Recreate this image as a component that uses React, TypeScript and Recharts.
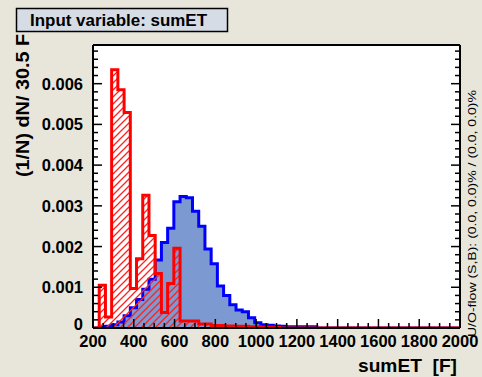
import React from "react";
import { ComposedChart, Area, XAxis, YAxis, CartesianGrid } from "recharts";

const X_MIN = 200;
const X_MAX = 2000;
const BIN_WIDTH = 30.5;
const Y_MAX = 0.00695;

// signal (blue, filled) per 30.5-wide bin starting at 200
const signal = [
  0, 0.00002, 0.00004, 0.00008, 0.00015, 0.0003, 0.0005, 0.0007, 0.00095, 0.0012,
  0.00167, 0.0021, 0.00245, 0.0031, 0.00323, 0.0032, 0.00287, 0.0025, 0.00194, 0.00158,
  0.00103, 0.0008, 0.00057, 0.00044, 0.0004, 0.00025, 0.00013, 0.00008, 0.00007, 0.00005,
  0.00004, 0.00003, 0.00003, 0.00003, 0.00003, 0.00003, 0, 0, 0, 0,
  0, 0, 0, 0, 0, 0, 0, 0, 0, 0,
  0, 0, 0, 0, 0, 0, 0, 0, 0,
];

// background (red, hatched)
const background = [
  0, 0.00105, 0.00027, 0.00634, 0.00585, 0.00529, 0.00097, 0.0017, 0.00326, 0.00227,
  0.00134, 0.00038, 0.00109, 0.00196, 0.00017, 0.00017, 0.00017, 0.0001, 0.0001, 0.00006,
  0.00006, 0.00005, 0.00005, 0.00004, 0.00004, 0.00003, 0.00003, 0.00002, 0.00002, 0.00001,
  0, 0, 0, 0, 0, 0, 0, 0, 0, 0,
  0, 0, 0, 0, 0, 0, 0, 0, 0, 0,
  0, 0, 0, 0, 0, 0, 0, 0, 0,
];

const xMajorTicks = [200, 400, 600, 800, 1000, 1200, 1400, 1600, 1800, 2000];
const yMajorTicks = [0, 0.001, 0.002, 0.003, 0.004, 0.005, 0.006];
const yTickLabels = ["0", "0.001", "0.002", "0.003", "0.004", "0.005", "0.006"];

const xTicks: number[] = [];
for (let v = X_MIN; v <= X_MAX; v += 50) xTicks.push(v);
const yTicks: number[] = [];
for (let k = 0; k <= 34; k++) yTicks.push(k * 0.0002);

// step-after rows: one per bin lower edge plus the closing edge
const data = signal.map((s, i) => ({ x: X_MIN + i * BIN_WIDTH, sig: s, bkg: background[i] }));
data.push({
  x: X_MIN + signal.length * BIN_WIDTH,
  sig: signal[signal.length - 1],
  bkg: background[background.length - 1],
});

const font = '"Liberation Sans", Arial, Helvetica, sans-serif';
const isMajorX = (v: number) => xMajorTicks.includes(v);
const majorYIndex = (v: number) =>
  yMajorTicks.findIndex((m) => Math.abs(m - v) < 1e-9);

function BottomTick({ x, y, payload }: any) {
  const major = isMajorX(payload.value);
  return (
    <g>
      <line x1={x} x2={x} y1={y} y2={y - (major ? 9 : 5)} stroke="#000" strokeWidth={1.5} />
      {major && (
        <text x={x} y={y + 19} textAnchor="middle" fontFamily={font} fontWeight={700} fontSize={16.5} fill="#000">
          {payload.value}
        </text>
      )}
    </g>
  );
}

function TopTick({ x, y, payload }: any) {
  const major = isMajorX(payload.value);
  return <line x1={x} x2={x} y1={y} y2={y + (major ? 9 : 5)} stroke="#000" strokeWidth={1.5} />;
}

function LeftTick({ x, y, payload }: any) {
  const idx = majorYIndex(payload.value);
  return (
    <g>
      <line x1={x} x2={x + (idx >= 0 ? 9 : 5)} y1={y} y2={y} stroke="#000" strokeWidth={1.5} />
      {idx >= 0 && (
        <text
          x={x - 10}
          y={idx === 0 ? y - 4 : y}
          dy="0.36em"
          textAnchor="end"
          fontFamily={font}
          fontWeight={700}
          fontSize={16.5}
          fill="#000"
        >
          {yTickLabels[idx]}
        </text>
      )}
    </g>
  );
}

function RightTick({ x, y, payload }: any) {
  const major = majorYIndex(payload.value) >= 0;
  return <line x1={x} x2={x - (major ? 9 : 5)} y1={y} y2={y} stroke="#000" strokeWidth={1.5} />;
}

export default function App() {
  return (
    <div style={{ position: "absolute", left: 0, top: 0, width: 482, height: 377, background: "#e8e6da" }}>
      <ComposedChart width={482} height={377} data={data} margin={{ top: 44, right: 21, bottom: 48, left: 92 }}>
        <defs>
          <pattern id="bkgHatch" patternUnits="userSpaceOnUse" width={7} height={7}>
            <path d="M-1,8 L8,-1 M-1,1 L1,-1 M6,8 L8,6" stroke="#ff2020" strokeWidth={1.3} />
          </pattern>
        </defs>
        <CartesianGrid xAxisId="b" yAxisId="l" horizontal={false} vertical={false} fill="#ffffff" stroke="none" />
        <XAxis
          xAxisId="b"
          dataKey="x"
          type="number"
          orientation="bottom"
          domain={[X_MIN, X_MAX]}
          allowDataOverflow
          ticks={xTicks}
          interval={0}
          height={1}
          tickSize={0}
          tickMargin={0}
          tickLine={false}
          axisLine={{ stroke: "#000", strokeWidth: 2 }}
          tick={BottomTick}
        />
        <XAxis
          xAxisId="t"
          type="number"
          orientation="top"
          domain={[X_MIN, X_MAX]}
          allowDataOverflow
          ticks={xTicks}
          interval={0}
          height={1}
          tickSize={0}
          tickMargin={0}
          tickLine={false}
          axisLine={{ stroke: "#000", strokeWidth: 2 }}
          tick={TopTick}
        />
        <YAxis
          yAxisId="l"
          type="number"
          orientation="left"
          domain={[0, Y_MAX]}
          allowDataOverflow
          ticks={yTicks}
          interval={0}
          width={1}
          tickSize={0}
          tickMargin={0}
          tickLine={false}
          axisLine={{ stroke: "#000", strokeWidth: 2 }}
          tick={LeftTick}
        />
        <YAxis
          yAxisId="r"
          type="number"
          orientation="right"
          domain={[0, Y_MAX]}
          allowDataOverflow
          ticks={yTicks}
          interval={0}
          width={1}
          tickSize={0}
          tickMargin={0}
          tickLine={false}
          axisLine={{ stroke: "#000", strokeWidth: 2 }}
          tick={RightTick}
        />
        <Area
          xAxisId="b"
          yAxisId="l"
          type="stepAfter"
          dataKey="sig"
          stroke="#0000ff"
          strokeWidth={3}
          fill="#7d99d1"
          fillOpacity={1}
          dot={false}
          activeDot={false}
          isAnimationActive={false}
        />
        <Area
          xAxisId="b"
          yAxisId="l"
          type="stepAfter"
          dataKey="bkg"
          stroke="#ff0000"
          strokeWidth={3}
          fill="url(#bkgHatch)"
          fillOpacity={1}
          dot={false}
          activeDot={false}
          isAnimationActive={false}
        />
      </ComposedChart>
      <svg width={482} height={377} style={{ position: "absolute", left: 0, top: 0, pointerEvents: "none" }}>
        <rect x={16.5} y={8.5} width={211} height={23} fill="#d6dce6" stroke="#000" strokeWidth={1.5} />
        <text x={30} y={25.5} fontFamily={font} fontWeight={700} fontSize={16.5} fill="#000" textLength={177} lengthAdjust="spacingAndGlyphs">
          Input variable: sumET
        </text>
        <text transform="translate(29,177) rotate(-90)" fontFamily={font} fontWeight={700} fontSize={18.5} fill="#000" textLength={143} lengthAdjust="spacingAndGlyphs">
          (1/N) dN/ 30.5 F
        </text>
        <text x={358} y={372} fontFamily={font} fontWeight={700} fontSize={18} fill="#000" textLength={99} lengthAdjust="spacingAndGlyphs" style={{ whiteSpace: "pre" }}>
          {"sumET  [F]"}
        </text>
        <text transform="translate(476,337) rotate(-90)" fontFamily={font} fontSize={10.5} fill="#000" textLength={247} lengthAdjust="spacingAndGlyphs">
          U/O-flow (S,B): (0.0, 0.0)% / (0.0, 0.0)%
        </text>
      </svg>
    </div>
  );
}
